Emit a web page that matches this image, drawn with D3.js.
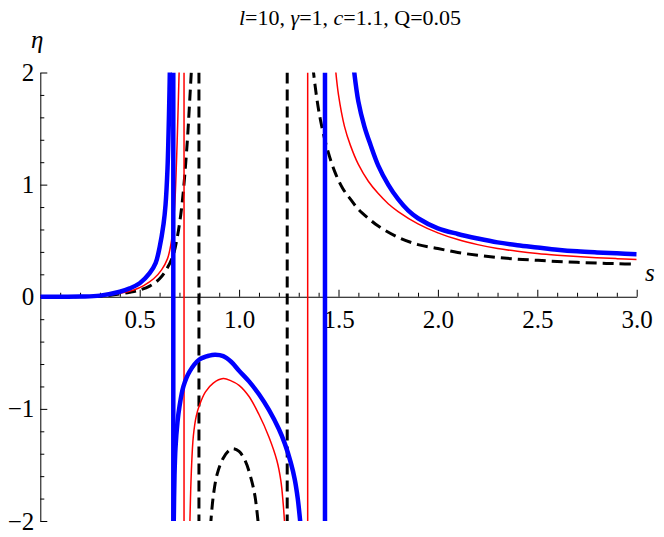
<!DOCTYPE html>
<html>
<head>
<meta charset="utf-8">
<script src="https://cdnjs.cloudflare.com/ajax/libs/d3/7.8.5/d3.min.js"></script>
<style>
body { margin: 0; background: #fff; }
svg { display: block; }
</style>
</head>
<body>
<script>
// tick values
var sTicks = [0.5, 1.0, 1.5, 2.0, 2.5, 3.0];
var etaTicks = [-2, -1, 0, 1, 2];

// blue (thick) curve
var blueLeft = [[0,0],[0.2,0.002],[0.3,0.01],[0.4,0.045],[0.45,0.075],[0.5,0.12],[0.55,0.21],[0.58,0.3],[0.6,0.44],[0.62,0.65],[0.63,0.82],[0.64,1.15],[0.645,1.45],[0.65,1.85],[0.652,2.05]];
var blueMid = [[0.671,-2.05],[0.675,-1.6],[0.68,-1.35],[0.69,-1.12],[0.7,-0.98],[0.72,-0.8],[0.75,-0.67],[0.8,-0.56],[0.85,-0.525],[0.88,-0.518],[0.92,-0.53],[0.96,-0.58],[1.0,-0.66],[1.05,-0.755],[1.1,-0.87],[1.15,-1.01],[1.2,-1.18],[1.23,-1.31],[1.26,-1.48],[1.28,-1.63],[1.295,-1.8],[1.306,-1.98],[1.31,-2.05]];
var blueRight = [[1.576,2.05],[1.6,1.74],[1.63,1.52],[1.66,1.36],[1.7,1.17],[1.75,1.0],[1.8,0.87],[1.85,0.77],[1.9,0.7],[2.0,0.61],[2.1,0.56],[2.2,0.52],[2.3,0.485],[2.4,0.46],[2.5,0.44],[2.6,0.42],[2.7,0.405],[2.8,0.395],[2.9,0.387],[3.0,0.38]];
var bluePoles = [0.669, 1.432];

// red (thin) curve
var redLeft = [[0,0],[0.3,0.008],[0.4,0.03],[0.47,0.06],[0.52,0.1],[0.57,0.16],[0.61,0.24],[0.64,0.34],[0.66,0.5],[0.675,0.78],[0.685,1.2],[0.692,1.6],[0.699,2.05]];
var redMid = [[0.752,-2.05],[0.76,-1.55],[0.77,-1.24],[0.785,-1.06],[0.8,-0.97],[0.83,-0.85],[0.87,-0.77],[0.92,-0.73],[0.96,-0.75],[1.0,-0.79],[1.05,-0.89],[1.1,-1.05],[1.15,-1.25],[1.19,-1.46],[1.21,-1.64],[1.222,-1.85],[1.23,-2.05]];
var redRight = [[1.484,2.05],[1.5,1.8],[1.53,1.52],[1.56,1.35],[1.6,1.18],[1.65,1.03],[1.7,0.92],[1.75,0.83],[1.8,0.76],[1.9,0.65],[2.0,0.57],[2.1,0.51],[2.2,0.465],[2.3,0.43],[2.4,0.405],[2.5,0.385],[2.6,0.37],[2.7,0.358],[2.8,0.348],[2.9,0.34],[3.0,0.333]];
var redPoles = [0.723, 1.345];

// black dashed curve
var blackLeft = [[0,0],[0.3,0.005],[0.38,0.02],[0.45,0.04],[0.5,0.06],[0.55,0.095],[0.6,0.16],[0.64,0.26],[0.67,0.38],[0.69,0.54],[0.71,0.78],[0.725,1.05],[0.74,1.4],[0.75,1.7],[0.761,2.05]];
var blackMid = [[0.856,-2.05],[0.87,-1.78],[0.89,-1.58],[0.92,-1.44],[0.95,-1.37],[0.97,-1.355],[1.0,-1.38],[1.03,-1.46],[1.06,-1.62],[1.08,-1.78],[1.098,-2.05]];
var blackRight = [[1.371,2.05],[1.39,1.78],[1.41,1.57],[1.44,1.34],[1.48,1.12],[1.52,0.97],[1.56,0.87],[1.6,0.78],[1.65,0.7],[1.7,0.63],[1.8,0.53],[1.9,0.465],[2.0,0.43],[2.1,0.395],[2.2,0.37],[2.3,0.35],[2.4,0.335],[2.5,0.325],[2.6,0.315],[2.7,0.307],[2.8,0.3],[2.9,0.295],[3.0,0.29]];
var blackPoles = [0.798, 1.242];

var width = 664;
var height = 537;
var serif = "Liberation Serif";

var svg = d3.select("body").append("svg")
            .attr("width", width)
            .attr("height", height);

var x = d3.scaleLinear().domain([0, 3]).range([40.3, 636.7]);
var y = d3.scaleLinear().domain([-2, 2]).range([521, 72.5]);

svg.append("defs").append("clipPath")
   .attr("id", "plotclip")
   .append("rect")
   .attr("x", x(0))
   .attr("y", y(2))
   .attr("width", x(3) - x(0))
   .attr("height", y(-2) - y(2));

// title
var title = svg.append("text")
               .attr("x", 350)
               .attr("y", 25)
               .attr("text-anchor", "middle")
               .attr("font-family", serif)
               .attr("font-size", 22);
title.append("tspan").attr("font-style", "italic").text("l");
title.append("tspan").text("=10, ");
title.append("tspan").attr("font-style", "italic").text("γ");
title.append("tspan").text("=1, ");
title.append("tspan").attr("font-style", "italic").text("c");
title.append("tspan").text("=1.1, Q=0.05");

var sMinor = d3.range(1, 31).map(function(i) { return i / 10; })
               .filter(function(v) { return Math.abs(v * 2 - Math.round(v * 2)) > 1e-6; });
var etaMinor = d3.range(-10, 11).map(function(i) { return i / 5; })
                 .filter(function(v) { return Math.abs(v - Math.round(v)) > 1e-6; });

// x axis
var xMinor = svg.append("g")
   .attr("transform", "translate(0," + y(0) + ")")
   .call(d3.axisBottom(x).tickValues(sMinor).tickSize(-4).tickSizeOuter(0).tickFormat(""));
xMinor.select(".domain").remove();

var xAxis = svg.append("g")
   .attr("transform", "translate(0," + y(0) + ")")
   .call(d3.axisBottom(x).tickValues(sTicks).tickSize(-7).tickSizeOuter(0).tickPadding(13)
         .tickFormat(d3.format(".1f")));

// y axis
var yMinor = svg.append("g")
   .attr("transform", "translate(" + x(0) + ",0)")
   .call(d3.axisLeft(y).tickValues(etaMinor).tickSize(-4).tickSizeOuter(0).tickFormat(""));
yMinor.select(".domain").remove();

var yAxis = svg.append("g")
   .attr("transform", "translate(" + x(0) + ",0)")
   .call(d3.axisLeft(y).tickValues(etaTicks).tickSize(-7).tickSizeOuter(0).tickPadding(6)
         .tickFormat(function(d) { return d < 0 ? "\u2212" + Math.abs(d) : d; }));

svg.selectAll("g").attr("font-family", serif).attr("font-size", 25);
svg.selectAll(".tick line, .domain").attr("stroke", "#000").attr("stroke-width", 1);
svg.selectAll(".tick text").attr("fill", "#000");

// axis names
svg.append("text")
   .attr("x", 31)
   .attr("y", 48)
   .attr("font-family", serif)
   .attr("font-style", "italic")
   .attr("font-size", 25)
   .text("η");
svg.append("text")
   .attr("x", 645)
   .attr("y", 281)
   .attr("font-family", serif)
   .attr("font-style", "italic")
   .attr("font-size", 25)
   .text("s");

// curves
var series = [
  {branches: [blackLeft, blackMid, blackRight], poles: blackPoles, color: "#000000", w: 3, dash: "11,6"},
  {branches: [redLeft, redMid, redRight], poles: redPoles, color: "#ff0000", w: 1.5, dash: null},
  {branches: [blueLeft, blueMid, blueRight], poles: bluePoles, color: "#0000ff", w: 4.5, dash: null}
];

var line = d3.line()
             .x(function(d) { return x(d[0]); })
             .y(function(d) { return y(d[1]); })
             .curve(d3.curveCatmullRom.alpha(0.5));

var plot = svg.append("g").attr("clip-path", "url(#plotclip)");

series.forEach(function(ser) {
  var g = plot.append("g");
  g.selectAll("path")
   .data(ser.branches)
   .enter()
   .append("path")
   .attr("d", line)
   .attr("fill", "none")
   .attr("stroke", ser.color)
   .attr("stroke-width", ser.w)
   .attr("stroke-dasharray", ser.dash);
  g.selectAll("line")
   .data(ser.poles)
   .enter()
   .append("line")
   .attr("x1", function(d) { return x(d); })
   .attr("x2", function(d) { return x(d); })
   .attr("y1", y(2))
   .attr("y2", y(-2))
   .attr("stroke", ser.color)
   .attr("stroke-width", ser.w)
   .attr("stroke-dasharray", ser.dash);
});
</script>
</body>
</html>
